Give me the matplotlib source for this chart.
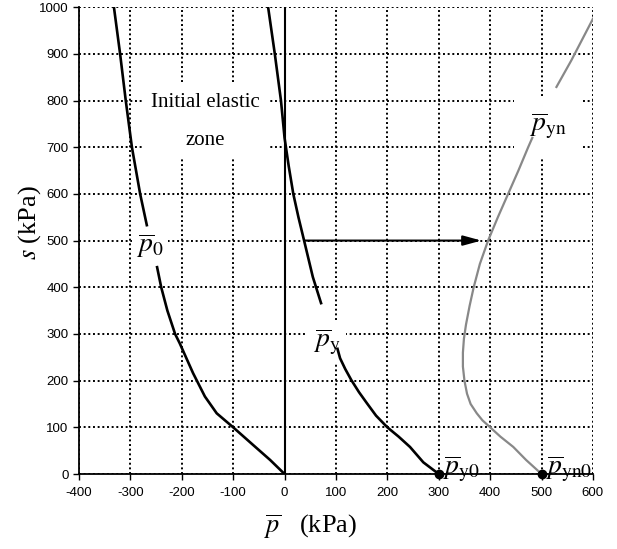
import numpy as np
import matplotlib
matplotlib.use("Agg")
import matplotlib.pyplot as plt

plt.rcParams['mathtext.fontset'] = 'stix'
plt.rcParams['font.family'] = 'Liberation Sans'
plt.rcParams['axes.unicode_minus'] = False

# curve p0 (black), split where the label sits
p0_lo_p = [0, -28, -61, -100, -132, -155, -178, -204, -213, -228, -240, -248]
p0_lo_s = [0, 30, 62, 100, 130, 166, 216, 280, 300, 350, 400, 443]
p0_hi_p = [-268, -281, -297, -309, -320, -332]
p0_hi_s = [533, 600, 700, 800, 900, 1000]

# curve py (black)
py_lo_p = [300, 270, 244, 222, 200, 178, 160, 145, 130, 118, 108, 103]
py_lo_s = [0, 25, 58, 80, 100, 125, 152, 175, 201, 225, 248, 268]
py_hi_p = [71, 55, 38, 27, 17, 8, 0, -7, -19, -32]
py_hi_s = [366, 422, 500, 550, 600, 660, 720, 800, 900, 1000]

# curve pyn (grey)
pyn_lo_p = [500, 470, 445, 420, 400, 385, 374, 362, 355, 350, 347, 347, 349, 353, 360, 368, 380, 396, 415, 435, 455, 474, 482]
pyn_lo_s = [0, 30, 58, 80, 100, 115, 130, 150, 172, 200, 230, 260, 290, 320, 360, 400, 450, 500, 550, 600, 650, 700, 720]
pyn_hi_p = [529, 558, 600]
pyn_hi_s = [829, 886, 975]

fig = plt.figure(figsize=(6.17, 5.49), dpi=100)
ax = fig.add_axes([0.128, 0.1366, 0.833, 0.8504])

ax.set_xlim(-400, 600)
ax.set_ylim(0, 1000)
ax.set_xticks(np.arange(-400, 601, 100))
ax.set_yticks(np.arange(0, 1001, 100))
ax.tick_params(labelsize=9.5, direction='out', length=4, width=1)
ax.tick_params(axis='x', pad=5)
ax.grid(True, color='black', linestyle=(0, (1, 1.4)), linewidth=1.4)
ax.spines['top'].set_visible(False)
ax.spines['right'].set_visible(False)
ax.spines['left'].set_linewidth(1.3)
ax.spines['bottom'].set_linewidth(1.3)
ax.set_axisbelow(True)

lw = 1.9
ax.plot(p0_lo_p, p0_lo_s, color='black', lw=lw, zorder=4)
ax.plot(p0_hi_p, p0_hi_s, color='black', lw=lw, zorder=4)
ax.plot(py_lo_p, py_lo_s, color='black', lw=lw, zorder=4)
ax.plot(py_hi_p, py_hi_s, color='black', lw=lw, zorder=4)
ax.plot(pyn_lo_p, pyn_lo_s, color='#888888', lw=1.6, zorder=4)
ax.plot(pyn_hi_p, pyn_hi_s, color='#888888', lw=1.6, zorder=4)
ax.plot([0, 0], [0, 1000], color='black', lw=1.5, zorder=4)

ax.annotate('', xy=(383, 500), xytext=(38, 500),
            arrowprops=dict(arrowstyle='-|>,head_length=1.1,head_width=0.3',
                            color='black', lw=1.5, shrinkA=0, shrinkB=0),
            zorder=5)

ax.plot([300, 500], [0, 0], 'o', color='black', ms=6, zorder=6, clip_on=False)

serif = 'Liberation Serif'
ax.text(-155, 756, 'Initial elastic\n\nzone', fontsize=15, family=serif,
        ha='center', va='center', multialignment='center', linespacing=1.0,
        bbox=dict(facecolor='white', edgecolor='none', pad=6), zorder=3)
ax.text(-262, 490, r'$\overline{p}_0$', fontsize=20,
        ha='center', va='center',
        bbox=dict(facecolor='white', edgecolor='none', pad=3), zorder=3)
ax.text(82, 282, r'$\overline{p}_{\rm y}$', fontsize=20,
        ha='center', va='center',
        bbox=dict(facecolor='white', edgecolor='none', pad=4), zorder=3)
ax.text(512, 745, r'$\overline{p}_{\rm yn}$', fontsize=20,
        ha='center', va='center',
        bbox=dict(facecolor='white', edgecolor='none', pad=11), zorder=3)
ax.text(306, 10, r'$\overline{p}_{\rm y0}$', fontsize=20,
        ha='left', va='center', zorder=7, clip_on=False)
ax.text(506, 10, r'$\overline{p}_{\rm yn0}$', fontsize=20,
        ha='left', va='center', zorder=7, clip_on=False)

fig.text(311 / 617, 1 - 527 / 549, r'$\overline{p}$   (kPa)', fontsize=19,
         family=serif, ha='center', va='center')
fig.text(30 / 617, 1 - 223 / 549, r'$s$ (kPa)', fontsize=19,
         family=serif, ha='center', va='center', rotation=90)

fig.savefig('out.png', dpi=100)
